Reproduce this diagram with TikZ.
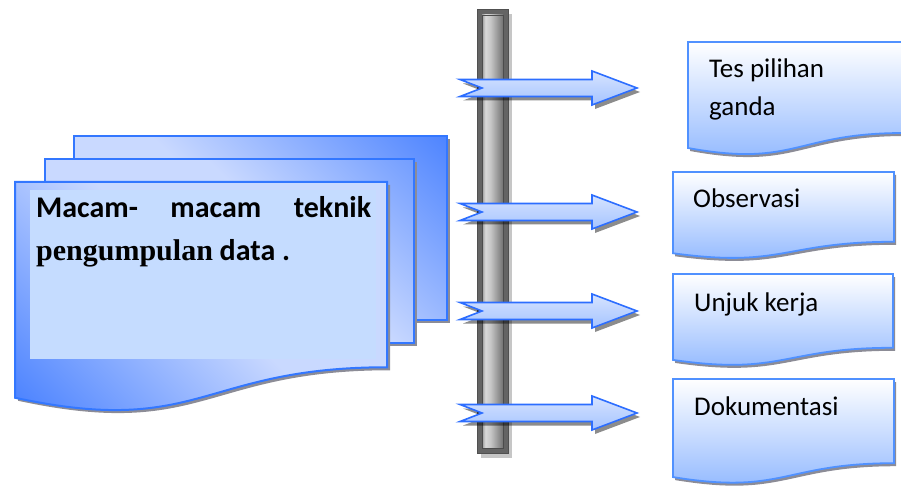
\documentclass[tikz,border=0pt]{standalone}
\usepackage{fontspec}
\setmainfont{Carlito}
\newfontfamily\timesb{Liberation Serif}
\definecolor{blueline}{RGB}{51,119,255}
\definecolor{innerfill}{RGB}{197,220,255}
\definecolor{boxline}{RGB}{80,145,255}
\definecolor{boxbottom}{RGB}{140,181,255}
\definecolor{arrowline}{RGB}{45,110,255}
\definecolor{arrowlight}{RGB}{214,228,255}
\definecolor{arrowdark}{RGB}{165,195,255}
\definecolor{shadowgray}{RGB}{140,140,150}
\definecolor{barframe}{RGB}{100,100,100}
% TikZ maps the central 50bp of a shading onto the path's bounding box
\pgfdeclarehorizontalshading{diagshade}{100bp}{rgb(0bp)=(0.79,0.85,1); rgb(40bp)=(0.79,0.85,1); rgb(60bp)=(0.19,0.44,1); rgb(100bp)=(0.19,0.44,1)}
\pgfdeclarehorizontalshading{barshade}{100bp}{rgb(0bp)=(0.6,0.6,0.6); rgb(25bp)=(0.6,0.6,0.6); rgb(33bp)=(0.85,0.85,0.85); rgb(45bp)=(0.78,0.78,0.78); rgb(75bp)=(0.45,0.45,0.45); rgb(100bp)=(0.45,0.45,0.45)}
\tikzset{
  sheetline/.style={draw=blueline, line width=2pt},
  sheetshadow/.style={fill=shadowgray},
  docbox/.style={draw=boxline, line width=1.8pt, top color=white, bottom color=boxbottom},
  boxshadow/.style={fill=shadowgray},
  arrowbody/.style={draw=arrowline, line width=1.6pt, top color=arrowlight, bottom color=arrowdark},
  arrowshadow/.style={fill=black, opacity=0.45},
  boxtext/.style={anchor=base west, inner sep=0pt, font=\fontsize{27}{32}\selectfont},
  lefttext/.style={anchor=base west, inner sep=0pt, font=\bfseries\fontsize{30}{36}\selectfont}
}
% document shape: x, y, w, h, style
\newcommand\docshape[5]{%
  \path[#5] (#1,#2) -- ({#1+#3},#2) -- ({#1+#3},{#2+0.802*#4})
    .. controls ({#1+0.5*#3},{#2+0.802*#4}) and ({#1+0.5*#3},{#2+1.1075*#4}) .. (#1,{#2+0.934*#4}) -- cycle;}
% diagonal gradient: centre x, centre y, angle (used inside a clip)
\newcommand\sheetfill[3]{\shade[shading=diagshade, shading angle=#3] ({#1-325},{#2-325}) rectangle ({#1+325},{#2+325});}
% arrow at centre y
\newcommand\bigarrow[2]{%
  \path[#2] (460,{#1-8.5}) -- (592,{#1-8.5}) -- (592,{#1-17}) -- (637,#1) -- (592,{#1+17})
    -- (592,{#1+8.5}) -- (460,{#1+8.5}) -- (482,#1) -- cycle;}
\begin{document}
\begin{tikzpicture}[x=1pt,y=-1pt]
\useasboundingbox (0,0) rectangle (901,486);
% ---- left stack of sheets
\fill[sheetshadow] (77,139) rectangle (450,323);
\begin{scope}\clip (74,136) rectangle (447,320); \sheetfill{300}{102}{45} \end{scope}
\draw[sheetline] (74,136) rectangle (447,320);
\fill[sheetshadow] (48,162) rectangle (417,346);
\begin{scope}\clip (45,159) rectangle (414,343); \sheetfill{300}{70}{45} \end{scope}
\draw[sheetline] (45,159) rectangle (414,343);
\docshape{18}{185}{372}{231}{sheetshadow}
\begin{scope}\docshape{15}{182}{372}{231}{clip}\sheetfill{100}{369}{225}\end{scope}
\docshape{15}{182}{372}{231}{sheetline}
\fill[innerfill] (30,190) rectangle (376,359);
\node[lefttext] (t0a) at (36,218) {\hbox to 335pt{Macam-\hfill macam\hfill teknik}};
\node[lefttext] (t0b) at (36,260) {{\timesb pengumpulan} data .};
% ---- vertical bar
\fill[gray!45] (481,14) rectangle (512,458);
\fill[barframe] (477,10) rectangle (508,453);
\draw[barframe!80!black, line width=1pt] (477,10) rectangle (508,453);
\shade[shading=barshade] (482,15) rectangle (503,448);
\draw[gray!60!black, line width=0.8pt] (482,15) rectangle (503,448);
% ---- arrows
\foreach \cy in {88,212,311,413}{
  \begin{scope}[shift={(3,4)}]\bigarrow{\cy}{arrowshadow}\end{scope}
  \bigarrow{\cy}{arrowbody}
}
% ---- right boxes
\docshape{690}{45}{215}{113.5}{boxshadow}
\docshape{688}{42}{215}{113.5}{docbox}
\node[boxtext] (t1a) at (709,78) {Tes pilihan};
\node[boxtext] (t1b) at (709,116) {ganda};
\docshape{675}{175}{221}{87}{boxshadow}
\docshape{673}{172}{221}{87}{docbox}
\node[boxtext] (t2) at (693,208) {Observasi};
\docshape{675}{277}{220}{92}{boxshadow}
\docshape{673}{274}{220}{92}{docbox}
\node[boxtext] (t3) at (694,311) {Unjuk kerja};
\docshape{675}{382}{221}{105}{boxshadow}
\docshape{673}{379}{221}{105}{docbox}
\node[boxtext] (t4) at (694,415) {Dokumentasi};
\end{tikzpicture}
\end{document}
